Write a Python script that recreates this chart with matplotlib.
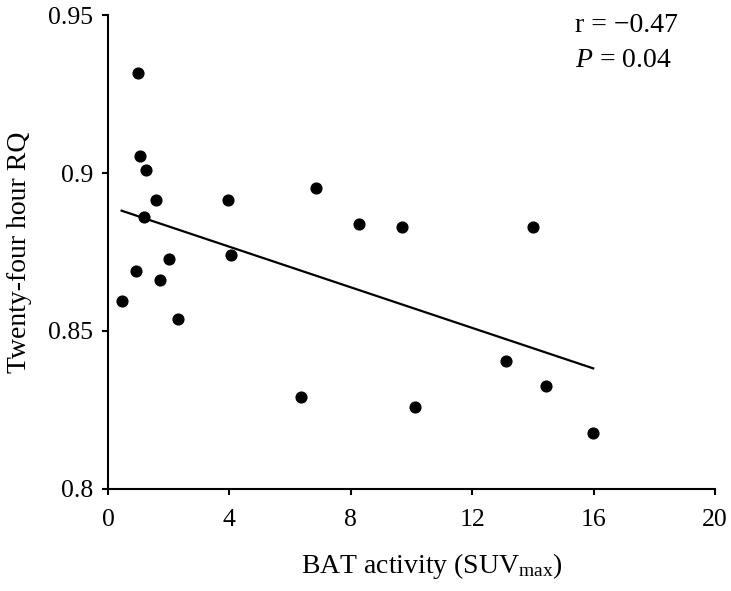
import numpy as np
import matplotlib
matplotlib.use('Agg')
import matplotlib.pyplot as plt

# BAT activity (SUVmax) vs 24h RQ
bat_suv = [0.98, 1.05, 1.25, 1.58, 3.96, 6.84, 1.20, 0.45, 0.92, 2.02, 1.72,
           2.30, 4.04, 6.36, 8.27, 9.68, 14.01, 13.10, 14.45, 10.13, 15.99]
rq_24h = [0.9317, 0.9054, 0.9009, 0.8915, 0.8915, 0.8952, 0.8862, 0.8595,
          0.8691, 0.8727, 0.8662, 0.8538, 0.8740, 0.8292, 0.8838, 0.8830,
          0.8829, 0.8406, 0.8327, 0.8259, 0.8178]

x_ticks = [0, 4, 8, 12, 16, 20]
y_ticks = [0.8, 0.85, 0.9, 0.95]
y_ticklabels = ['0.8', '0.85', '0.9', '0.95']

plt.rcParams['font.family'] = ['Liberation Serif', 'DejaVu Serif']
plt.rcParams['mathtext.fontset'] = 'custom'
plt.rcParams['mathtext.rm'] = 'Liberation Serif'
plt.rcParams['mathtext.it'] = 'Liberation Serif:italic'

fig = plt.figure(figsize=(7.31, 5.91), dpi=100)
ax = fig.add_axes([0.1477, 0.1726, 0.8303, 0.802])

x = np.array(bat_suv)
y = np.array(rq_24h)
ax.scatter(x, y, s=60, color='black', zorder=3)

# least squares line over the data range
slope, intercept = np.polyfit(x, y, 1)
xs = np.array([x.min(), x.max()])
ax.plot(xs, slope * xs + intercept, color='black', lw=1.6)

ax.set_xlim(0, 20)
ax.set_ylim(0.8, 0.95)
ax.set_xticks(x_ticks)
ax.set_yticks(y_ticks)
ax.set_yticklabels(y_ticklabels)
ax.tick_params(direction='out', length=4.5, width=1.5, labelsize=18.5)
ax.tick_params(axis='x', pad=10)
ax.tick_params(axis='y', pad=6)
for side in ['top', 'right']:
    ax.spines[side].set_visible(False)
for side in ['left', 'bottom']:
    ax.spines[side].set_linewidth(1.5)

ax.set_xlabel(r'BAT activity (SUV$_{\mathrm{max}}$)', fontsize=20, labelpad=14, x=0.534)
ax.set_ylabel('Twenty-four hour RQ', fontsize=20, labelpad=12)

ax.text(0.769, 0.964, 'r = \u22120.47', transform=ax.transAxes, fontsize=20,
        ha='left', va='baseline')
ax.text(0.769, 0.890, r'$P$ = 0.04', transform=ax.transAxes, fontsize=20,
        ha='left', va='baseline')

fig.savefig('out.png', dpi=100)
